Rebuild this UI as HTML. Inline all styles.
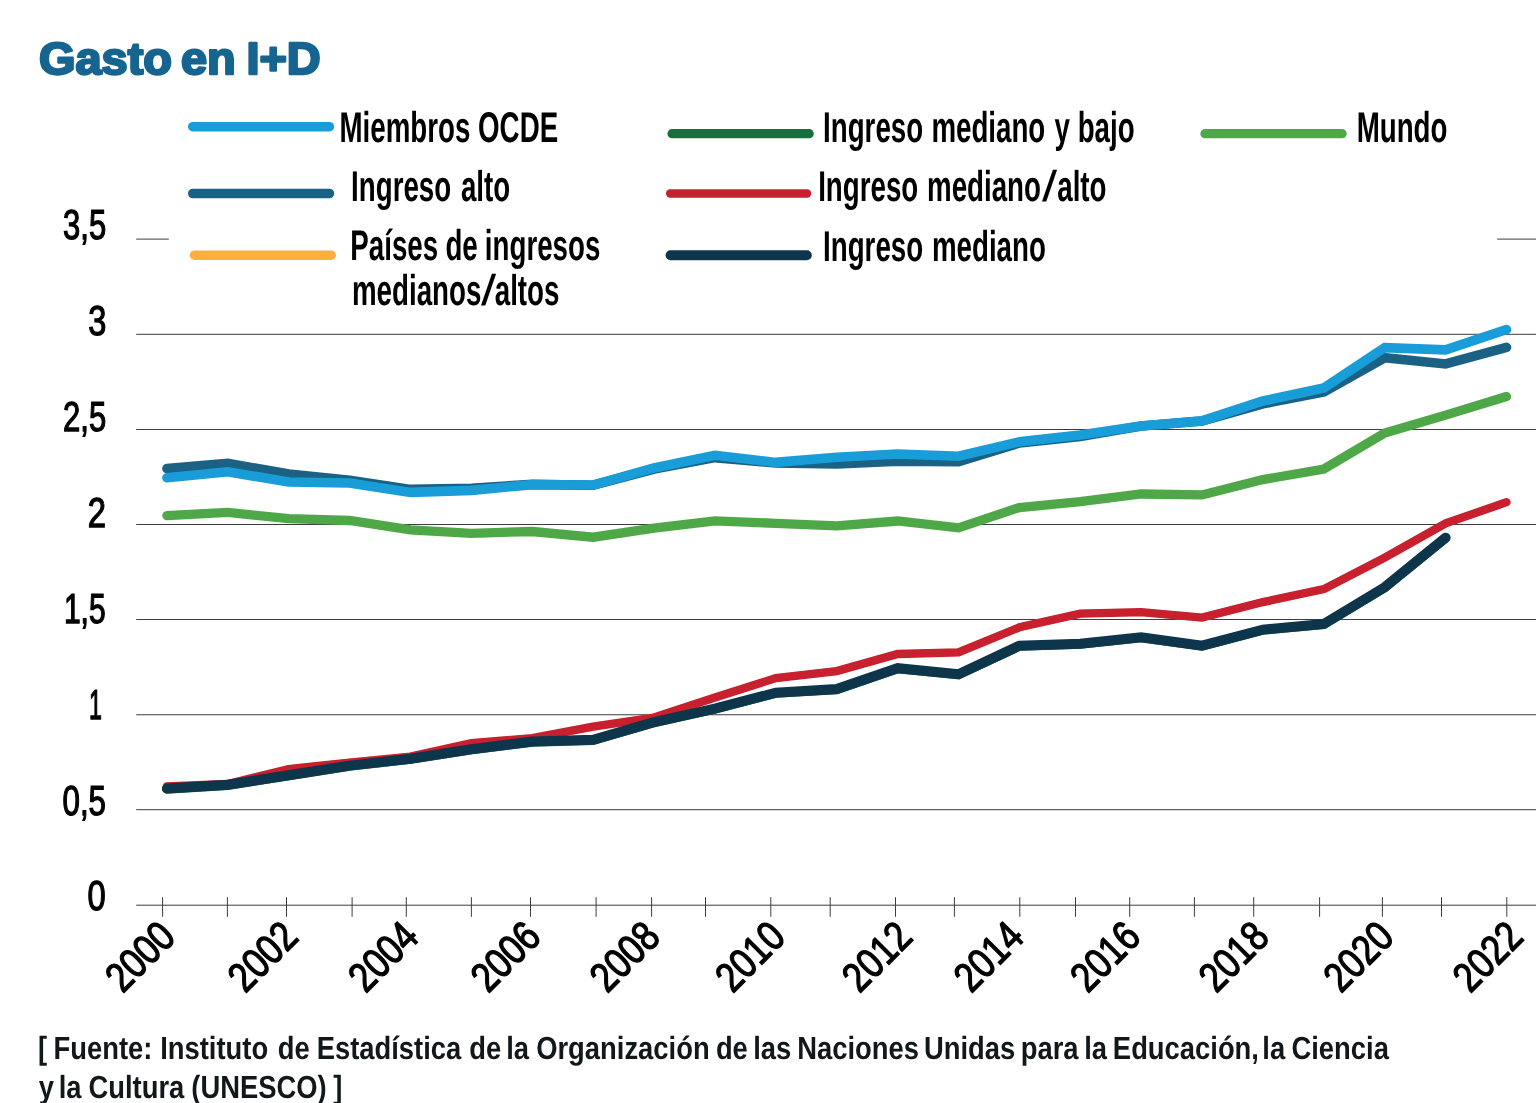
<!DOCTYPE html>
<html lang="es"><head><meta charset="utf-8"><title>Gasto en I+D</title>
<style>
html,body{margin:0;padding:0;background:#fff;}
body{width:1536px;height:1103px;overflow:hidden;}
svg{display:block;}
text{font-family:"Liberation Sans",sans-serif;text-rendering:geometricPrecision;}
.c{font-weight:bold;font-size:43px;fill:#000;}
.d{font-weight:normal;font-size:41.8px;fill:#000;stroke:#000;stroke-width:1.3px;}
.f{font-weight:bold;font-size:32px;fill:#12181a;}
.t{font-weight:bold;font-size:45px;fill:#166490;stroke:#166490;stroke-width:2.4px;stroke-linejoin:round;}
.g{stroke:#3d3d3d;stroke-width:1;fill:none;}
.l{fill:none;stroke-linecap:round;stroke-linejoin:miter;}
</style></head><body>
<svg width="1536" height="1103" viewBox="0 0 1536 1103">
<rect width="1536" height="1103" fill="#fff"/>
<path class="g" d="M136.2 239.1H168.8M1497.2 239.1H1536"/>
<path class="g" d="M136.2 334.3H1536"/>
<path class="g" d="M136.2 429.5H1536"/>
<path class="g" d="M136.2 524.5H1536"/>
<path class="g" d="M136.2 619.5H1536"/>
<path class="g" d="M136.2 714.75H1536"/>
<path class="g" d="M136.2 809.7H1536"/>
<path class="g" d="M136.2 905.2H1536"/>
<path class="g" d="M162.6 897.2V916.8M227.4 897.2V916.8M286.5 897.2V916.8M352.1 897.2V916.8M406.3 897.2V916.8M471.4 897.2V916.8M530.5 897.2V916.8M596.1 897.2V916.8M651.6 897.2V916.8M705.5 897.2V916.8M770.8 897.2V916.8M830.2 897.2V916.8M895.5 897.2V916.8M954.4 897.2V916.8M1019.8 897.2V916.8M1075.5 897.2V916.8M1129.7 897.2V916.8M1194.4 897.2V916.8M1253.7 897.2V916.8M1319.6 897.2V916.8M1382.4 897.2V916.8M1441.5 897.2V916.8M1506.8 897.2V916.8"/>
<polyline class="l" stroke="#fcaf3f" stroke-width="7.5" points="166.9,786.4 227.8,784.0 288.7,769.0 349.6,762.6 410.5,756.6 471.4,743.2 532.2,738.2 593.1,726.7 654.0,717.5 714.9,697.5 775.8,678.1 836.7,671.1 897.6,654.0 958.5,652.3 1019.4,627.3 1080.2,613.6 1141.1,612.2 1202.0,617.6 1262.9,602.1 1323.8,589.1 1384.7,557.7 1445.6,523.4 1506.5,502.2"/>
<polyline class="l" stroke="#c8202e" stroke-width="8.3" points="166.9,786.4 227.8,784.0 288.7,769.0 349.6,762.6 410.5,756.6 471.4,743.2 532.2,738.2 593.1,726.7 654.0,717.5 714.9,697.5 775.8,678.1 836.7,671.1 897.6,654.0 958.5,652.3 1019.4,627.3 1080.2,613.6 1141.1,612.2 1202.0,617.6 1262.9,602.1 1323.8,589.1 1384.7,557.7 1445.6,523.4 1506.5,502.2"/>
<polyline class="l" stroke="#17703c" stroke-width="9.2" points="166.9,789.1 227.8,785.3 288.7,775.7 349.6,766.1 410.5,759.2 471.4,749.7 532.2,742.1 593.1,740.3 654.0,722.7 714.9,709.1 775.8,693.2 836.7,689.6 897.6,668.7 958.5,674.7 1019.4,646.2 1080.2,644.2 1141.1,637.7 1202.0,646.1 1262.9,630.1 1323.8,624.5 1384.7,587.7 1445.6,538.2"/>
<polyline class="l" stroke="#0d364c" stroke-width="10" points="166.9,788.6 227.8,784.8 288.7,775.2 349.6,765.6 410.5,758.7 471.4,749.2 532.2,741.6 593.1,739.8 654.0,722.2 714.9,708.6 775.8,692.7 836.7,689.1 897.6,668.2 958.5,674.2 1019.4,645.7 1080.2,643.7 1141.1,637.2 1202.0,645.6 1262.9,629.6 1323.8,624.0 1384.7,587.2 1445.6,537.7"/>
<polyline class="l" stroke="#1a6184" stroke-width="9.6" points="166.9,468.6 227.8,463.4 288.7,474.0 349.6,480.2 410.5,489.4 471.4,488.2 532.2,484.4 593.1,485.2 654.0,469.0 714.9,457.6 775.8,463.0 836.7,464.0 897.6,461.3 958.5,461.8 1019.4,443.0 1080.2,436.5 1141.1,426.0 1202.0,421.1 1262.9,403.8 1323.8,392.0 1384.7,357.8 1445.6,364.0 1506.5,347.3"/>
<polyline class="l" stroke="#189dd8" stroke-width="9.6" points="166.9,477.8 227.8,471.8 288.7,482.0 349.6,483.0 410.5,492.4 471.4,490.4 532.2,484.6 593.1,485.0 654.0,468.0 714.9,455.3 775.8,462.4 836.7,457.3 897.6,454.0 958.5,456.2 1019.4,441.8 1080.2,435.1 1141.1,425.9 1202.0,420.9 1262.9,401.0 1323.8,388.0 1384.7,347.6 1445.6,349.9 1506.5,329.5"/>
<polyline class="l" stroke="#4fa847" stroke-width="9.3" points="166.9,515.6 227.8,512.4 288.7,518.7 349.6,520.5 410.5,529.9 471.4,533.3 532.2,531.5 593.1,537.2 654.0,528.1 714.9,520.9 775.8,523.3 836.7,525.9 897.6,521.0 958.5,527.8 1019.4,507.5 1080.2,501.7 1141.1,494.0 1202.0,494.9 1262.9,479.6 1323.8,469.1 1384.7,433.0 1445.6,415.1 1506.5,396.5"/>
<path class="l" stroke="#189dd8" stroke-width="9.6" d="M192.8 126.7H329.4"/>
<path class="l" stroke="#1a6184" stroke-width="9.6" d="M192.8 193.5H329.4"/>
<path class="l" stroke="#fcaf3f" stroke-width="9.6" d="M194.5 255.2H331.2"/>
<path class="l" stroke="#17703c" stroke-width="9.2" d="M672.0 133.7H809.2"/>
<path class="l" stroke="#c8202e" stroke-width="8.3" d="M670.1 193.5H807.1"/>
<path class="l" stroke="#0d364c" stroke-width="10" d="M670.6 255.2H806.8"/>
<path class="l" stroke="#4fa847" stroke-width="9.3" d="M1205.0 133.7H1342.1"/>
<text class="c" transform="scale(0.6443 1)" y="142.40"><tspan x="526.96">Miembros</tspan> <tspan x="742.00">OCDE</tspan></text>
<text class="c" transform="scale(0.6443 1)" y="201.00"><tspan x="544.95">Ingreso</tspan> <tspan x="715.33">alto</tspan></text>
<text class="c" transform="scale(0.6443 1)" y="260.40"><tspan x="543.70">Países</tspan> <tspan x="691.30">de</tspan> <tspan x="752.54">ingresos</tspan></text>
<text class="c" transform="scale(0.6443 1)" y="305.40"><tspan x="546.29">medianos</tspan><tspan x="746.56" textLength="23.43" lengthAdjust="spacingAndGlyphs" font-weight="normal">/</tspan><tspan x="767.85">altos</tspan></text>
<text class="c" transform="scale(0.6443 1)" y="142.40"><tspan x="1277.45">Ingreso</tspan> <tspan x="1445.57">mediano</tspan> <tspan x="1636.76">y</tspan> <tspan x="1672.63">bajo</tspan></text>
<text class="c" transform="scale(0.6443 1)" y="201.20"><tspan x="1269.85">Ingreso</tspan> <tspan x="1438.82">mediano</tspan><tspan x="1617.28" textLength="23.43" lengthAdjust="spacingAndGlyphs" font-weight="normal">/</tspan><tspan x="1640.92">alto</tspan></text>
<text class="c" transform="scale(0.6443 1)" y="261.10"><tspan x="1277.45">Ingreso</tspan> <tspan x="1446.42">mediano</tspan></text>
<text class="c" transform="scale(0.6443 1)" y="142.40"><tspan x="2105.68">Mundo</tspan></text>
<text class="d" x="63.03" y="239.00" textLength="43.11" lengthAdjust="spacingAndGlyphs">3,5</text>
<text class="d" x="88.29" y="335.00" textLength="18.14" lengthAdjust="spacingAndGlyphs">3</text>
<text class="d" x="63.05" y="431.10" textLength="43.21" lengthAdjust="spacingAndGlyphs">2,5</text>
<text class="d" x="87.77" y="527.40" textLength="18.25" lengthAdjust="spacingAndGlyphs">2</text>
<text class="d" x="63.94" y="623.30" textLength="41.70" lengthAdjust="spacingAndGlyphs">1,5</text>
<text class="d" x="88.96" y="719.30" textLength="12.92" lengthAdjust="spacingAndGlyphs">1</text>
<text class="d" x="62.47" y="814.70" textLength="43.55" lengthAdjust="spacingAndGlyphs">0,5</text>
<text class="d" x="87.52" y="910.20" textLength="18.19" lengthAdjust="spacingAndGlyphs">0</text>
<text class="d" transform="translate(177.50 939.10) rotate(-45)" x="-77.60" y="0" textLength="77.60" lengthAdjust="spacingAndGlyphs">2000</text>
<text class="d" transform="translate(300.10 939.10) rotate(-45)" x="-77.60" y="0" textLength="77.60" lengthAdjust="spacingAndGlyphs">2002</text>
<text class="d" transform="translate(420.60 939.10) rotate(-45)" x="-77.60" y="0" textLength="77.60" lengthAdjust="spacingAndGlyphs">2004</text>
<text class="d" transform="translate(543.00 939.10) rotate(-45)" x="-77.60" y="0" textLength="77.60" lengthAdjust="spacingAndGlyphs">2006</text>
<text class="d" transform="translate(662.20 939.10) rotate(-45)" x="-77.60" y="0" textLength="77.60" lengthAdjust="spacingAndGlyphs">2008</text>
<text class="d" transform="translate(787.50 939.10) rotate(-45)" x="-77.60" y="0" textLength="77.60" lengthAdjust="spacingAndGlyphs">2010</text>
<text class="d" transform="translate(914.40 939.10) rotate(-45)" x="-77.60" y="0" textLength="77.60" lengthAdjust="spacingAndGlyphs">2012</text>
<text class="d" transform="translate(1026.00 939.10) rotate(-45)" x="-77.60" y="0" textLength="77.60" lengthAdjust="spacingAndGlyphs">2014</text>
<text class="d" transform="translate(1142.70 939.10) rotate(-45)" x="-77.60" y="0" textLength="77.60" lengthAdjust="spacingAndGlyphs">2016</text>
<text class="d" transform="translate(1271.20 939.10) rotate(-45)" x="-77.60" y="0" textLength="77.60" lengthAdjust="spacingAndGlyphs">2018</text>
<text class="d" transform="translate(1395.90 939.10) rotate(-45)" x="-77.60" y="0" textLength="77.60" lengthAdjust="spacingAndGlyphs">2020</text>
<text class="d" transform="translate(1525.10 939.10) rotate(-45)" x="-77.60" y="0" textLength="77.60" lengthAdjust="spacingAndGlyphs">2022</text>
<text class="t" transform="scale(1.0432 1)" y="74.30"><tspan x="37.35">Gasto</tspan> <tspan x="173.52">en</tspan> <tspan x="236.21">I+D</tspan></text>
<text class="f" transform="scale(0.8558 1)" y="1059.10"><tspan x="44.51">[</tspan> <tspan x="62.57">Fuente:</tspan> <tspan x="187.14">Instituto</tspan> <tspan x="324.51">de</tspan> <tspan x="370.00">Estadística</tspan> <tspan x="548.35">de</tspan> <tspan x="591.57">la</tspan> <tspan x="626.48">Organización</tspan> <tspan x="836.51">de</tspan> <tspan x="880.08">las</tspan> <tspan x="931.49">Naciones</tspan> <tspan x="1079.66">Unidas</tspan> <tspan x="1192.72">para</tspan> <tspan x="1266.93">la</tspan> <tspan x="1300.38">Educación,</tspan> <tspan x="1475.05">la</tspan> <tspan x="1509.06">Ciencia</tspan></text>
<text class="f" transform="scale(0.8558 1)" y="1098.20"><tspan x="45.27">y</tspan> <tspan x="68.64">la</tspan> <tspan x="103.32">Cultura</tspan> <tspan x="223.59">(UNESCO)</tspan> <tspan x="389.55">]</tspan></text>
</svg></body></html>
